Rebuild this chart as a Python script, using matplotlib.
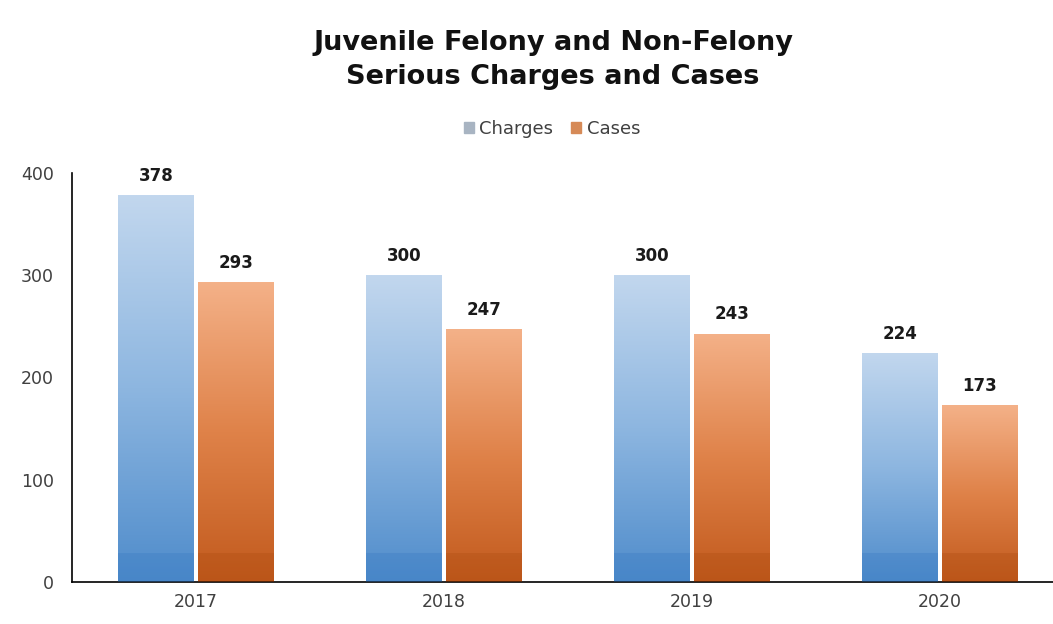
import numpy as np
import matplotlib
matplotlib.use("Agg")
import matplotlib.pyplot as plt
from matplotlib.colors import LinearSegmentedColormap

years = ["2017", "2018", "2019", "2020"]
charges = [378, 300, 300, 224]
cases = [293, 247, 243, 173]

plt.rcParams["font.family"] = ["DejaVu Sans"]

fig = plt.figure(figsize=(10.53, 6.24), dpi=100)
ax = fig.add_axes([72 / 1053, 42 / 624, 992 / 1053, 409 / 624])

x = np.arange(len(years))
w = 0.306
off = 0.161

bars_c = ax.bar(x - off, charges, w, color="#9dbfe3", label="Charges", zorder=2)
bars_k = ax.bar(x + off, cases, w, color="#e38a52", label="Cases", zorder=2)

cmap_blue = LinearSegmentedColormap.from_list("blue", ["#4f8ccb", "#8db6e0", "#c2d7ee"])
cmap_orange = LinearSegmentedColormap.from_list("orange", ["#c25a1d", "#df8249", "#f4b188"])


def fill_gradient(bars, cmap, base_col):
    grad = np.linspace(0, 1, 256).reshape(-1, 1)
    for b in bars:
        x0, y0 = b.get_x(), b.get_y()
        bw, bh = b.get_width(), b.get_height()
        b.set_facecolor("none")
        im = ax.imshow(grad, cmap=cmap, aspect="auto", origin="lower",
                       extent=[x0, x0 + bw, y0, y0 + bh], zorder=2)
        im.set_clip_path(b)
        # darker band near the base
        ax.bar(x0 + bw / 2, 28, bw, color=base_col, alpha=0.35, zorder=3,
               linewidth=0)


fill_gradient(bars_c, cmap_blue, "#3b7cc4")
fill_gradient(bars_k, cmap_orange, "#b04e12")

for b, v in list(zip(bars_c, charges)) + list(zip(bars_k, cases)):
    ax.text(b.get_x() + b.get_width() / 2, v + 10, f"{v}", ha="center",
            va="bottom", fontsize=12, fontweight="bold", color="#1a1a1a")

ax.set_xlim(-0.5, 3.5)
ax.set_ylim(0, 400)
ax.set_yticks([0, 100, 200, 300, 400])
ax.set_xticks(x)
ax.set_xticklabels(years)
ax.tick_params(axis="both", length=0, labelsize=12.5, colors="#404040", pad=8)
ax.tick_params(axis="y", pad=13)
for s in ["top", "right"]:
    ax.spines[s].set_visible(False)
ax.spines["left"].set_color("#000000")
ax.spines["bottom"].set_color("#000000")
ax.spines["left"].set_linewidth(1.2)
ax.spines["bottom"].set_linewidth(1.2)

fig.text(553 / 1053, 1 - 60 / 624, "Juvenile Felony and Non-Felony\nSerious Charges and Cases",
         ha="center", va="center", fontsize=19.5, fontweight="bold",
         color="#111111", linespacing=1.35)

handles = [plt.Rectangle((0, 0), 1, 1, color="#a8b4c2"),
           plt.Rectangle((0, 0), 1, 1, color="#d68a57")]
fig.legend(handles, ["Charges", "Cases"], loc="center", ncol=2,
           bbox_to_anchor=(552 / 1053, 1 - 129 / 624), frameon=False,
           fontsize=13, handlelength=0.55, handleheight=0.55,
           handletextpad=0.3, columnspacing=1.0, labelcolor="#404040")

fig.savefig("out.png", dpi=100)
